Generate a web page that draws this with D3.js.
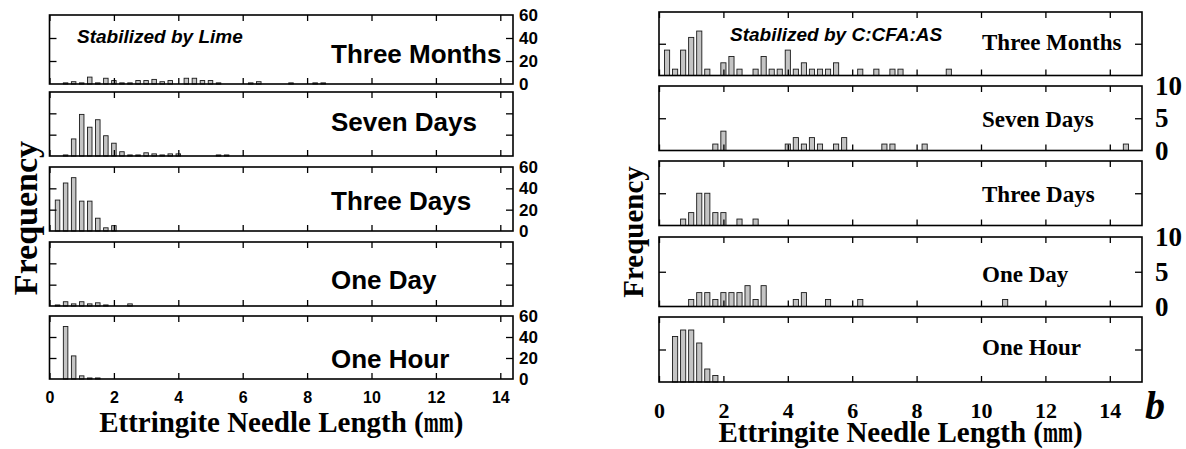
<!DOCTYPE html>
<html><head><meta charset="utf-8">
<script src="https://cdn.jsdelivr.net/npm/d3@7"></script>
<style>body{margin:0;background:#fff}svg{display:block}</style>
</head><body>
<svg id="c" width="1186" height="449"></svg>
<script>
// ---------------- data ----------------
const panelNames = ["Three Months", "Seven Days", "Three Days", "One Day", "One Hour"];
const xTickValues = [0, 2, 4, 6, 8, 10, 12, 14];
const limeYTickValues = [0, 20, 40, 60];
const cfaYTickValues = [0, 5, 10];
const limeInnerYTicks = [20, 40];
const cfaInnerYTicks = [5];

// Stabilized by Lime (length in mm, frequency)
const limeThreeMonthsLen   = [0.5, 0.75, 1.0, 1.25, 1.5, 1.75, 2.0, 2.25, 2.5, 2.75, 3.0, 3.25, 3.5, 3.75, 4.25, 4.5, 4.75, 5.0, 5.25, 6.25, 6.5, 7.5, 8.25, 8.5];
const limeThreeMonthsCount = [1, 2, 1, 6, 1, 5, 3, 1, 1, 3, 3, 4, 2, 3, 5, 5, 3, 3, 1, 1, 2, 1, 1, 1];
const limeSevenDaysLen     = [0.5, 0.75, 1.0, 1.25, 1.5, 1.75, 2.0, 2.25, 2.5, 2.75, 3.0, 3.25, 3.5, 3.75, 4.0, 5.25, 5.5];
const limeSevenDaysCount   = [1, 16, 39, 27, 34, 19, 12, 4, 1, 1, 3, 2, 1, 2, 2, 1, 1];
const limeThreeDaysLen     = [0.25, 0.5, 0.75, 1.0, 1.25, 1.5, 1.75, 2.0];
const limeThreeDaysCount   = [29, 45, 50, 28, 28, 12, 3, 5];
const limeOneDayLen        = [0.25, 0.5, 0.75, 1.0, 1.25, 1.5, 1.75, 2.5];
const limeOneDayCount      = [1, 4, 2, 4, 2, 3, 1, 2];
const limeOneHourLen       = [0.5, 0.75, 1.0, 1.25, 1.5];
const limeOneHourCount     = [50, 22, 3, 1, 1];

// Stabilized by C:CFA:AS
const cfaThreeMonthsLen   = [0.25, 0.5, 0.75, 1.0, 1.25, 1.5, 2.0, 2.25, 2.5, 3.0, 3.25, 3.5, 3.75, 4.0, 4.25, 4.5, 4.75, 5.0, 5.25, 5.5, 6.25, 6.75, 7.25, 7.5, 9.0];
const cfaThreeMonthsCount = [4, 1, 4, 6, 7, 1, 2, 3, 1, 1, 3, 1, 1, 4, 1, 2, 1, 1, 1, 2, 1, 1, 1, 1, 1];
const cfaSevenDaysLen     = [1.75, 2.0, 4.0, 4.25, 4.5, 4.75, 5.0, 5.5, 5.75, 7.0, 7.25, 8.25, 14.5];
const cfaSevenDaysCount   = [1, 3, 1, 2, 1, 2, 1, 1, 2, 1, 1, 1, 1];
const cfaThreeDaysLen     = [0.75, 1.0, 1.25, 1.5, 1.75, 2.0, 2.5, 3.0];
const cfaThreeDaysCount   = [1, 2, 5, 5, 2, 2, 1, 1];
const cfaOneDayLen        = [1.0, 1.25, 1.5, 1.75, 2.0, 2.25, 2.5, 2.75, 3.0, 3.25, 4.25, 4.5, 5.25, 6.25, 10.75];
const cfaOneDayCount      = [1, 2, 2, 1, 2, 2, 2, 3, 1, 3, 1, 2, 1, 1, 1];
const cfaOneHourLen       = [0.5, 0.75, 1.0, 1.25, 1.5, 1.75];
const cfaOneHourCount     = [7, 8, 8, 6, 2, 1];

// ---------------- layout ----------------
const svg = d3.select("#c");
const SANS = "'Liberation Sans', Arial, sans-serif";
const SERIF = "'Liberation Serif', 'Times New Roman', serif";

function drawChart(o) {
  const x = d3.scaleLinear().domain([0, o.xMax]).range([o.x0, o.x1]);
  const bwPx = x(o.barWidth) - x(0);
  o.panels.forEach((p, i) => {
    const y = d3.scaleLinear().domain([0, o.yMax]).range([p.bottom, p.top]);
    const g = svg.append("g");
    const data = o.lens[i].map((l, j) => ({ l, c: o.counts[i][j] }));
    g.selectAll("rect.bar").data(data).join("rect")
      .attr("class", "bar")
      .attr("x", d => x(d.l) - bwPx / 2)
      .attr("width", bwPx)
      .attr("y", d => y(d.c))
      .attr("height", d => y(0) - y(d.c))
      .attr("fill", "#c4c4c4").attr("stroke", "#1a1a1a").attr("stroke-width", 0.9);

    const clean = s => { s.select(".domain").remove(); s.selectAll("line").attr("stroke-width", 1.3); };
    g.append("g").attr("transform", `translate(0,${p.top})`)
      .call(d3.axisTop(x).tickValues(o.xTicks).tickSize(-6).tickFormat("")).call(clean);
    g.append("g").attr("transform", `translate(0,${p.bottom})`)
      .call(d3.axisBottom(x).tickValues(o.xTicks).tickSize(-6).tickFormat("")).call(clean);
    g.append("g").attr("transform", `translate(${o.x0},0)`)
      .call(d3.axisLeft(y).tickValues(o.innerY).tickSize(-7).tickFormat("")).call(clean);
    g.append("g").attr("transform", `translate(${o.x1},0)`)
      .call(d3.axisRight(y).tickValues(o.innerY).tickSize(-7).tickFormat("")).call(clean);

    g.append("rect").attr("x", o.x0).attr("y", p.top)
      .attr("width", o.x1 - o.x0).attr("height", p.bottom - p.top)
      .attr("fill", "none").attr("stroke", "#000").attr("stroke-width", 1.6);

    if (o.yLabelPanels.includes(i)) {
      const ya = g.append("g").attr("transform", `translate(${o.x1},0)`)
        .attr("font-family", o.yFont)
        .call(d3.axisRight(y).tickValues(o.yTickLabels).tickSize(0).tickPadding(o.yPad));
      ya.attr("font-family", o.yFont).attr("font-size", o.yFontSize).attr("font-weight", "bold");
      ya.select(".domain").remove();
      ya.selectAll("text").attr("fill", "#000");
    }
    g.append("text").attr("x", o.labelX).attr("y", o.labelBase[i])
      .attr("font-family", o.labelFont).attr("font-weight", "bold")
      .attr("font-size", o.labelSize).text(panelNames[i]);
  });
  const last = o.panels[o.panels.length - 1];
  const xa = svg.append("g").attr("transform", `translate(0,${last.bottom})`)
    .call(d3.axisBottom(x).tickValues(o.xTicks).tickSize(0).tickPadding(o.xPad));
  xa.attr("font-family", o.xFont).attr("font-size", o.xFontSize).attr("font-weight", "bold");
  xa.select(".domain").remove();
  xa.selectAll("text").attr("fill", "#000");

  // x title with a compressed "mm"
  const tg = svg.append("g").attr("font-family", SERIF).attr("font-weight", "bold").attr("font-size", o.titleSize);
  const t1 = tg.append("text").attr("y", o.titleBase).text("Ettringite Needle Length (");
  const t2 = tg.append("text").text("mm");
  const t3 = tg.append("text").attr("y", o.titleBase).text(")");
  const k = 0.62;
  const w1 = t1.node().getComputedTextLength();
  const w2 = t2.node().getComputedTextLength() * k;
  const w3 = t3.node().getComputedTextLength();
  const start = (o.x0 + o.x1) / 2 - (w1 + w2 + w3) / 2;
  t1.attr("x", start);
  t2.attr("transform", `translate(${start + w1},${o.titleBase}) scale(${k},1)`);
  t3.attr("x", start + w1 + w2);

  // y title
  svg.append("text").attr("transform", `translate(${o.fx},${o.fy}) rotate(-90)`)
    .attr("text-anchor", "middle").attr("font-family", SERIF).attr("font-weight", "bold")
    .attr("font-size", o.fSize).text("Frequency");

  svg.append("text").attr("x", o.stabX).attr("y", o.stabY)
    .attr("font-family", SANS).attr("font-weight", "bold").attr("font-style", "italic")
    .attr("font-size", 19).text(o.stabText);
}

drawChart({
  x0: 49.5, x1: 513, xMax: (513 - 49.5) / 32.2, barWidth: 0.14, yMax: 60,
  panels: [{ top: 15, bottom: 84 }, { top: 92, bottom: 156 }, { top: 167, bottom: 231 }, { top: 242, bottom: 306 }, { top: 316, bottom: 379 }],
  lens: [limeThreeMonthsLen, limeSevenDaysLen, limeThreeDaysLen, limeOneDayLen, limeOneHourLen],
  counts: [limeThreeMonthsCount, limeSevenDaysCount, limeThreeDaysCount, limeOneDayCount, limeOneHourCount],
  xTicks: xTickValues, innerY: limeInnerYTicks, yTickLabels: limeYTickValues, yLabelPanels: [0, 2, 4],
  yPad: 6, yFont: SANS, yFontSize: 17,
  xPad: 12.5, xFont: SANS, xFontSize: 16,
  labelX: 331, labelBase: [63, 131, 210, 289, 368], labelFont: SANS, labelSize: 26,
  titleSize: 29, titleBase: 432,
  fx: 37, fy: 218, fSize: 34,
  stabX: 77, stabY: 43, stabText: "Stabilized by Lime"
});

drawChart({
  x0: 659, x1: 1142, xMax: 15, barWidth: 0.16, yMax: 10,
  panels: [{ top: 12, bottom: 75.5 }, { top: 86, bottom: 150.5 }, { top: 161, bottom: 225.5 }, { top: 237, bottom: 306.5 }, { top: 317, bottom: 382 }],
  lens: [cfaThreeMonthsLen, cfaSevenDaysLen, cfaThreeDaysLen, cfaOneDayLen, cfaOneHourLen],
  counts: [cfaThreeMonthsCount, cfaSevenDaysCount, cfaThreeDaysCount, cfaOneDayCount, cfaOneHourCount],
  xTicks: xTickValues, innerY: cfaInnerYTicks, yTickLabels: cfaYTickValues, yLabelPanels: [1, 3],
  yPad: 13, yFont: SERIF, yFontSize: 27,
  xPad: 20.5, xFont: SERIF, xFontSize: 22,
  labelX: 982, labelBase: [50, 127, 202, 282, 355], labelFont: SERIF, labelSize: 23,
  titleSize: 29, titleBase: 442,
  fx: 643, fy: 232, fSize: 29,
  stabX: 730, stabY: 41, stabText: "Stabilized by C:CFA:AS"
});

svg.append("text").attr("x", 1145).attr("y", 419)
  .attr("font-family", SERIF).attr("font-weight", "bold").attr("font-style", "italic")
  .attr("font-size", 40).text("b");
</script>
</body></html>
